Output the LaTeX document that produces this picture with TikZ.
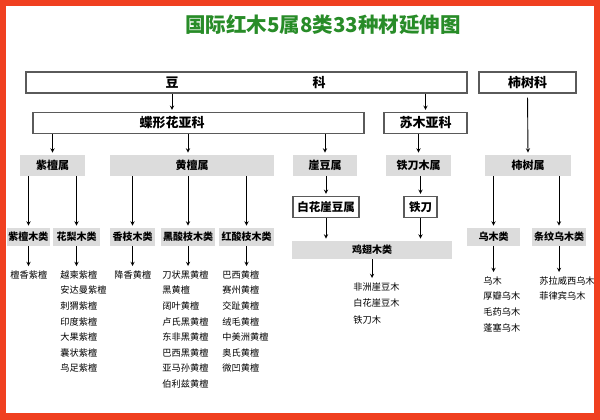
\documentclass[tikz,border=0pt]{standalone}
\usepackage{fontspec}
\setmainfont{Noto Sans CJK SC}
\definecolor{kuang}{RGB}{240,64,32}
\definecolor{biaolv}{RGB}{40,140,40}
\definecolor{huidi}{RGB}{220,220,220}
\definecolor{bianxian}{RGB}{90,90,90}
\tikzset{
  kezi/.style={font=\fontsize{13}{13}\selectfont\bfseries},
  kebox/.style={kezi, draw=bianxian, line width=1.3pt, minimum height=21pt, inner sep=0pt},
  shubox/.style={fill=huidi, minimum height=21pt, inner sep=0pt, font=\fontsize{11}{11}\selectfont\bfseries},
  leibox/.style={fill=huidi, minimum height=18pt, inner sep=0pt, font=\fontsize{10}{10}\selectfont\bfseries},
  mulu/.style={anchor=north west, inner sep=0pt, align=left, font=\fontsize{9.2}{15.6}\selectfont},
  jt/.style={->, shorten >=2pt},
}
\begin{document}
\begin{tikzpicture}[x=1pt, y=-1pt, >=stealth, line width=0.9pt]
	\useasboundingbox (0,0) rectangle (600,420);
	\fill[kuang] (0,0) rectangle (600,420);
	\fill[white] (6,6) rectangle (594,413);
	\node[text=biaolv, font=\fontsize{20.5}{20.5}\selectfont\bfseries] (biaoti) at (323,25) {国际红木5属8类33种材延伸图};
	% 科
	\node[kebox, minimum width=441pt] (Dou) at (246.5,82.5) {};
	\node[kezi] (DouZi) at (172,82.5) {豆};
	\node[kezi] (KeZi) at (319,82.5) {科};
	\node[kebox, minimum width=97pt] (Shike) at (527.5,82.5) {柿树科};
	% 亚科
	\node[kebox, minimum width=331pt] (Die) at (198.5,123) {};
	\node[kezi] (DieZi) at (172,123) {蝶形花亚科};
	\node[kebox, minimum width=83pt] (Su) at (425.5,123) {苏木亚科};
	% 属
	\node[shubox, minimum width=65pt] (Zi) at (52.5,165.5) {紫檀属};
	\node[shubox, minimum width=164pt] (Huang) at (192,165.5) {黄檀属};
	\node[shubox, minimum width=64pt] (Ya) at (325,165.5) {崖豆属};
	\node[shubox, minimum width=65pt] (Tie) at (418.5,165.5) {铁刀木属};
	\node[shubox, minimum width=86pt] (Shi) at (528,165.5) {柿树属};
	\node[kebox, font=\fontsize{11.5}{11.5}\selectfont\bfseries, minimum width=66pt] (Baihua) at (326,207) {白花崖豆属};
	\node[kebox, font=\fontsize{11.5}{11.5}\selectfont\bfseries, minimum width=33pt] (Tiedao) at (420.5,207) {铁刀};
	% 类
	\node[leibox, minimum width=43pt] (ZiL) at (28.5,237) {紫檀木类};
	\node[leibox, minimum width=47pt] (HuaL) at (76.5,237) {花梨木类};
	\node[leibox, minimum width=45pt] (XiangL) at (132.5,237) {香枝木类};
	\node[leibox, minimum width=54pt] (HeiL) at (188,237) {黑酸枝木类};
	\node[leibox, minimum width=55pt] (HongL) at (246.5,237) {红酸枝木类};
	\node[leibox, minimum width=160pt] (JiL) at (372,250) {鸡翅木类};
	\node[leibox, minimum width=53pt] (WuL) at (493.5,237) {乌木类};
	\node[leibox, minimum width=54pt] (TiaoL) at (559,237) {条纹乌木类};
	% 种
	\node[mulu] (ZiMu) at (10,270) {檀香紫檀};
	\node[mulu] (HuaMu) at (60,270) {越柬紫檀\\安达曼紫檀\\刺猬紫檀\\印度紫檀\\大果紫檀\\囊状紫檀\\鸟足紫檀};
	\node[mulu] (XiangMu) at (114,270) {降香黄檀};
	\node[mulu] (HeiMu) at (162,270) {刀状黑黄檀\\黑黄檀\\阔叶黄檀\\卢氏黑黄檀\\东非黑黄檀\\巴西黑黄檀\\亚马孙黄檀\\伯利兹黄檀};
	\node[mulu] (HongMu) at (222,270) {巴西黄檀\\赛州黄檀\\交趾黄檀\\绒毛黄檀\\中美洲黄檀\\奥氏黄檀\\微凹黄檀};
	\node[mulu, font=\fontsize{9.2}{16.5}\selectfont] (JiMu) at (353,282) {非洲崖豆木\\白花崖豆木\\铁刀木};
	\node[mulu] (WuMu) at (483,276) {乌木\\厚瓣乌木\\毛药乌木\\蓬塞乌木};
	\node[mulu] (TiaoMu) at (539,276) {苏拉威西乌木\\菲律宾乌木};
	% 箭头
	\draw[jt] (DouZi |- Dou.south) -- (DouZi |- Die.north);
	\draw[jt] (Su |- Dou.south) -- (Su.north);
	\draw[jt, shorten <=4pt] (Shike.south) -- (Shi.north);
	\draw[jt] (Zi |- Die.south) -- (Zi.north);
	\draw[jt] (HeiL |- Die.south) -- (HeiL |- Huang.north);
	\draw[jt] (Ya |- Die.south) -- (Ya.north);
	\draw[jt] (Su.south -| Tie) -- (Tie.north);
	\foreach \s/\l in {Zi/ZiL, Zi/HuaL, Huang/XiangL, Huang/HeiL, Huang/HongL, Shi/WuL, Shi/TiaoL}
		\draw[jt] (\l |- \s.south) -- (\l.north);
	\draw[jt] (Ya.south -| Baihua) -- (Baihua.north);
	\draw[jt] (Tie.south -| Tiedao) -- (Tiedao.north);
	\draw[jt] (Baihua.south) -- (Baihua |- JiL.north);
	\draw[jt] (Tiedao.south) -- (Tiedao |- JiL.north);
	\foreach \l/\m in {ZiL/ZiMu, HuaL/HuaMu, XiangL/XiangMu, HeiL/HeiMu, HongL/HongMu, JiL/JiMu, WuL/WuMu, TiaoL/TiaoMu}
		\draw[jt, shorten >=4pt] (\l.south) -- (\l |- \m.north);
\end{tikzpicture}
\end{document}
